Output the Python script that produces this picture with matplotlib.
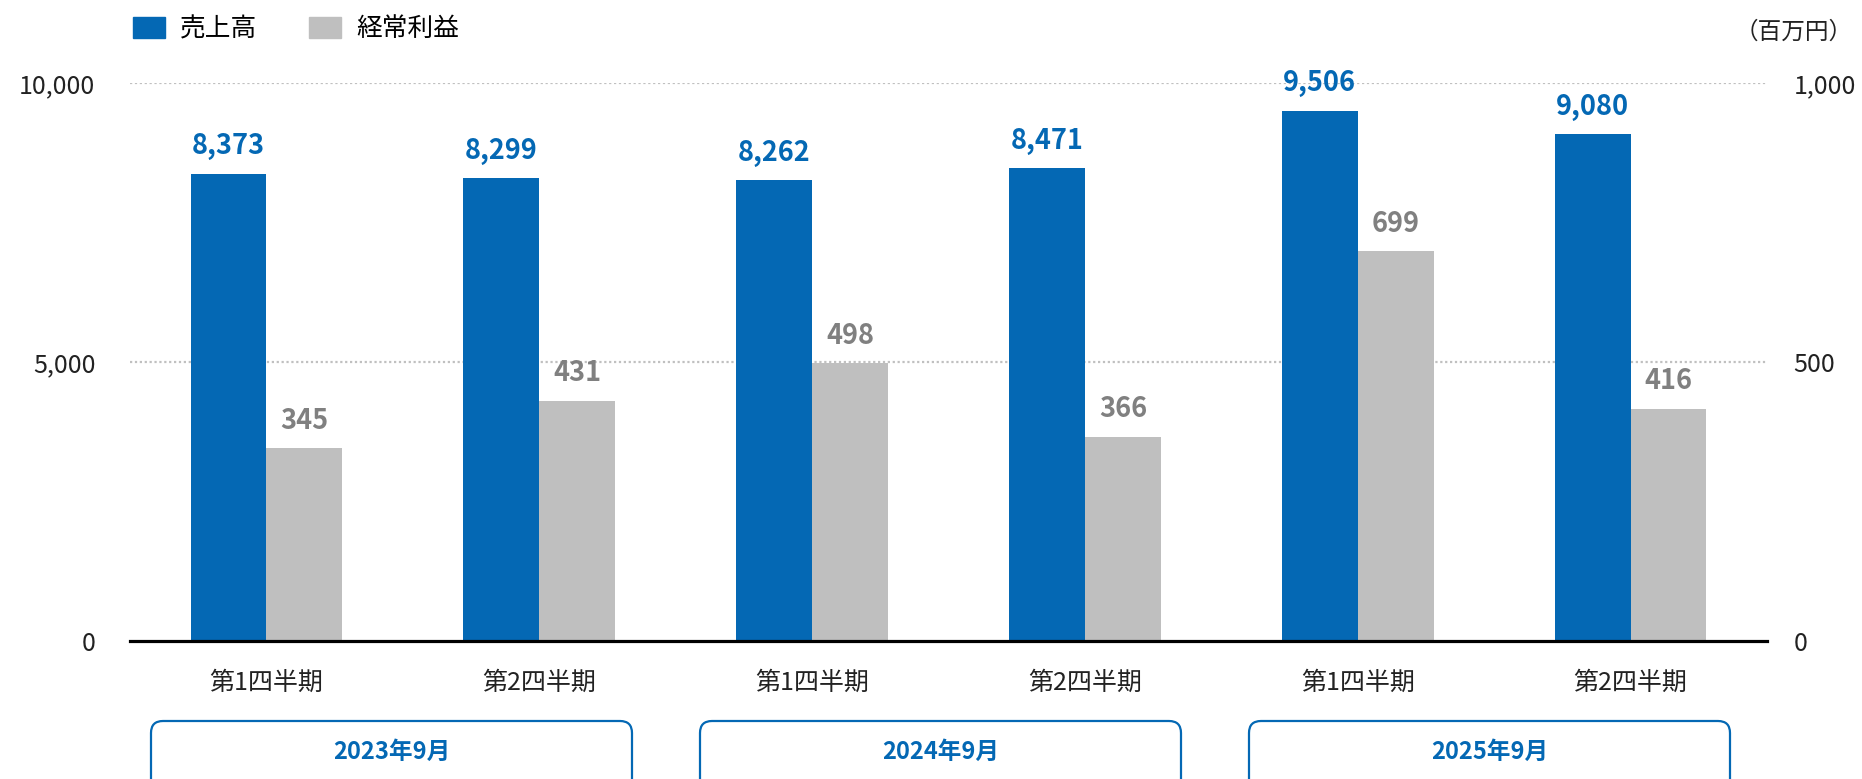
import matplotlib
matplotlib.use("Agg")
import matplotlib.pyplot as plt
from matplotlib.patches import FancyBboxPatch, Patch
from matplotlib.transforms import IdentityTransform
from matplotlib.ticker import FuncFormatter

plt.rcParams['font.family'] = ['Noto Sans CJK JP', 'DejaVu Sans']

# ==============================
# データ
# ==============================
quarters = ["第1四半期", "第2四半期", "第1四半期", "第2四半期", "第1四半期", "第2四半期"]
years = ["2023年9月", "2024年9月", "2025年9月"]
sales = [8373, 8299, 8262, 8471, 9506, 9080]      # 売上高
profit = [345, 431, 498, 366, 699, 416]           # 経常利益

BLUE = "#0468B4"
GREY = "#BFBFBF"
LABEL_GREY = "#808080"

W, H, DPI = 1862, 779, 100
fig = plt.figure(figsize=(W / DPI, H / DPI), dpi=DPI)

# plot area in pixels
left, right, top, bottom = 130, 1767, 83, 641
ax = fig.add_axes([left / W, 1 - bottom / H, (right - left) / W, (bottom - top) / H])
ax2 = ax.twinx()

x = list(range(len(quarters)))
bw = 0.278

ax.bar([i - bw / 2 for i in x], sales, width=bw, color=BLUE, zorder=3)
ax2.bar([i + bw / 2 for i in x], profit, width=bw, color=GREY, zorder=3)

ax.set_xlim(-0.5, len(quarters) - 0.5)
ax.set_ylim(0, 10000)
ax2.set_ylim(0, 1000)

ax.set_yticks([0, 5000, 10000])
ax2.set_yticks([0, 500, 1000])
fmt = FuncFormatter(lambda v, p: f"{int(v):,}")
ax.yaxis.set_major_formatter(fmt)
ax2.yaxis.set_major_formatter(fmt)

ax.set_xticks(x)
ax.set_xticklabels(quarters)
ax.tick_params(axis='x', length=0, pad=21, labelsize=18, colors="#222222")
ax.tick_params(axis='y', length=0, pad=25, labelsize=18, colors="#222222")
ax2.tick_params(axis='y', length=0, pad=19, labelsize=18, colors="#222222")

# grid
for v in [5000, 10000]:
    ax.axhline(v, color="#c0c0c0", lw=1.6, ls=(0, (1, 1.2)), zorder=1)

for a in (ax, ax2):
    for s in ["top", "right", "left", "bottom"]:
        a.spines[s].set_visible(False)
ax2.axhline(0, color="black", lw=2.3, zorder=5, clip_on=False)

# 値ラベル
for i, v in enumerate(sales):
    ax.annotate(f"{v:,}", (i - bw / 2, v), xytext=(0, 14), textcoords="offset points",
                ha="center", va="baseline", fontsize=19.5, fontweight="bold", color=BLUE)
for i, v in enumerate(profit):
    ax2.annotate(f"{v:,}", (i + bw / 2, v), xytext=(0, 14), textcoords="offset points",
                 ha="center", va="baseline", fontsize=19.5, fontweight="bold", color=LABEL_GREY)

# 凡例
handles = [Patch(color=BLUE, label="売上高"), Patch(color=GREY, label="経常利益")]
fig.legend(handles=handles, loc="upper left", bbox_to_anchor=(133 / W, 1 - 16 / H),
           ncol=2, frameon=False, fontsize=18.5, handlelength=1.24, handleheight=0.88,
           handletextpad=0.6, columnspacing=2.0, borderpad=0, borderaxespad=0)

fig.text(1794 / W, 1 - 32 / H, "（百万円）", ha="center", va="center", fontsize=17, color="#222222")

# 年度ボックス
box_left0, box_step, box_w = 151, 549, 481
for g, label in enumerate(years):
    x0 = box_left0 + g * box_step
    x1 = x0 + box_w
    box = FancyBboxPatch((x0 + 10, -40), box_w - 20, 779 - 721 + 40 - 10,
                         boxstyle="round,pad=10,rounding_size=12",
                         transform=IdentityTransform(), fill=False,
                         edgecolor=BLUE, lw=1.6)
    fig.add_artist(box)
    fig.text((x0 + x1) / 2 / W, 27 / H, label, ha="center", va="center",
             fontsize=17, fontweight="bold", color=BLUE)

fig.savefig("out.png", dpi=DPI)
